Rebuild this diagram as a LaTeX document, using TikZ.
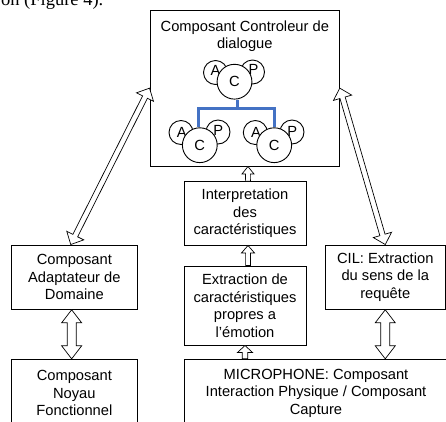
\documentclass[tikz,border=0pt]{standalone}
\usepackage{fontspec}
\setmainfont{Liberation Sans}
\newfontfamily\serifcap{Liberation Serif}
\usetikzlibrary{calc}
\definecolor{treeblue}{RGB}{68,114,196}
\newcommand\boxfont{\fontsize{14.7}{17.5}\selectfont}
% double-headed block arrow: from, to, head length, head half width, shaft half width
\newcommand\dblblock[5]{%
  \coordinate (hA) at ($(#1)!#3!(#2)$);
  \coordinate (hB) at ($(#2)!#3!(#1)$);
  \draw[blockarrow] (#1) -- ($(hA)!#4!90:(#2)$) -- ($(hA)!#5!90:(#2)$)
    -- ($(hB)!#5!-90:(#1)$) -- ($(hB)!#4!-90:(#1)$) -- (#2)
    -- ($(hB)!#4!90:(#1)$) -- ($(hB)!#5!90:(#1)$)
    -- ($(hA)!#5!-90:(#2)$) -- ($(hA)!#4!-90:(#2)$) -- cycle;
}
% single-headed block arrow: tip, tail, head length, head half width, shaft half width
\newcommand\oneblock[5]{%
  \coordinate (hA) at ($(#1)!#3!(#2)$);
  \draw[blockarrow] (#1) -- ($(hA)!#4!90:(#2)$) -- ($(hA)!#5!90:(#2)$)
    -- ($(#2)!#5!-90:(#1)$) -- ($(#2)!#5!90:(#1)$)
    -- ($(hA)!#5!-90:(#2)$) -- ($(hA)!#4!-90:(#2)$) -- cycle;
}
\begin{document}
\begin{tikzpicture}[x=1pt,y=-1pt,
  box/.style={draw=black,line width=0.95pt,fill=white,rectangle,inner sep=0pt,
    align=center,font=\boxfont},
  blockarrow/.style={draw=black,line width=0.7pt,fill=white,line join=miter},
  circ/.style={circle,draw=black,line width=0.9pt,fill=white,inner sep=0pt,
    minimum size=24pt},
  bigcirc/.style={circle,draw=black,line width=0.9pt,fill=white,inner sep=0pt,
    minimum size=34.8pt,font=\boxfont},
  lbl/.style={inner sep=0pt,font=\boxfont},
  tree/.style={draw=treeblue,line width=3.2pt,line join=miter}]
\useasboundingbox (0,0) rectangle (446,421);
\clip (0,0) rectangle (446,421);

\node[font=\serifcap\fontsize{18.5}{20}\selectfont,anchor=base east,inner sep=0pt]
  (prevtext) at (103.5,5.5) {on (Figure 4).};

% boxes
\node[box,minimum width=189.3pt,minimum height=155.7pt] (ctrl) at (244.65,88.15) {};
\node[lbl,align=center,anchor=north] (ctrltitle) at (244.8,20.3)
  {Composant Controleur de\\dialogue};
\node[box,minimum width=122pt,minimum height=63.3pt] (interp) at (245,213.35)
  {Interpretation\\des\\caractéristiques};
\node[box,minimum width=122pt,minimum height=79pt] (extr) at (245,305.5)
  {Extraction de\\caractéristiques\\propres a\\l’émotion};
\node[box,minimum width=126.7pt,minimum height=64.3pt] (adapt) at (74.35,277.15)
  {Composant\\Adaptateur de\\Domaine};
\node[box,minimum width=126.7pt,minimum height=67.4pt] (noyau) at (74.35,393)
  {Composant\\Noyau\\Fonctionnel};
\node[box,minimum width=120.5pt,minimum height=64.3pt] (cil) at (385.25,277.15)
  {CIL: Extraction\\du sens de la\\requête};
\node[box,minimum width=264pt,minimum height=67.4pt] (micro) at (316,393)
  {MICROPHONE: Composant\\Interaction Physique / Composant\\Capture};

% agent groups
\node[circ] (atop) at (215.5,72.5) {};
\node[lbl] (atoplbl) at (215.5,70) {A};
\node[circ] (ptop) at (252.5,72) {};
\node[lbl] (ptoplbl) at (253.5,69.5) {P};
\node[bigcirc] (ctop) at (234.5,81.7) {C};

\node[circ] (al) at (181,132.5) {};
\node[lbl] (allbl) at (181.7,132.3) {A};
\node[circ] (pl) at (218,132) {};
\node[lbl] (pllbl) at (218.3,130.7) {P};
\node[bigcirc] (cl) at (199.8,145.2) {C};

\node[circ] (ar) at (255.3,132.5) {};
\node[lbl] (arlbl) at (256,132.3) {A};
\node[circ] (pr) at (292,132) {};
\node[lbl] (prlbl) at (292.3,131) {P};
\node[bigcirc] (cr) at (274.2,145.2) {C};

% tree
\coordinate (stemtop) at ([xshift=2.8pt]ctop.south);
\coordinate (bar) at ($(stemtop)+(0,9.3)$);
\draw[tree] (stemtop) -- (bar);
\draw[tree] ([xshift=-1.5pt]cl.north) |- (bar) -| (cr.north);

% block arrows
\coordinate (adtop) at ([xshift=-3.6pt]adapt.north);
\dblblock{ctrl.west}{adtop}{10pt}{9.5pt}{2.7pt}
\dblblock{ctrl.east}{cil.north}{10pt}{9.5pt}{2.7pt}

\coordinate (u1tip) at ([xshift=3.3pt]ctrl.south);
\coordinate (u1tail) at ([xshift=3pt]interp.north);
\oneblock{u1tip}{u1tail}{7.5pt}{6pt}{2.4pt}
\coordinate (u2tip) at ([xshift=3pt]interp.south);
\coordinate (u2tail) at ([xshift=3pt]extr.north);
\oneblock{u2tip}{u2tail}{7.5pt}{6.5pt}{2.4pt}
\coordinate (u3tail) at (extr.south |- micro.north);
\oneblock{extr.south}{u3tail}{7pt}{7.5pt}{2.8pt}

\coordinate (adbot) at ([xshift=-2.7pt]adapt.south);
\coordinate (nytop) at ([xshift=-2.7pt]noyau.north);
\dblblock{adbot}{nytop}{13pt}{10pt}{4.5pt}
\coordinate (micil) at (cil.south |- micro.north);
\dblblock{cil.south}{micil}{13pt}{10pt}{4.5pt}
\end{tikzpicture}
\end{document}
